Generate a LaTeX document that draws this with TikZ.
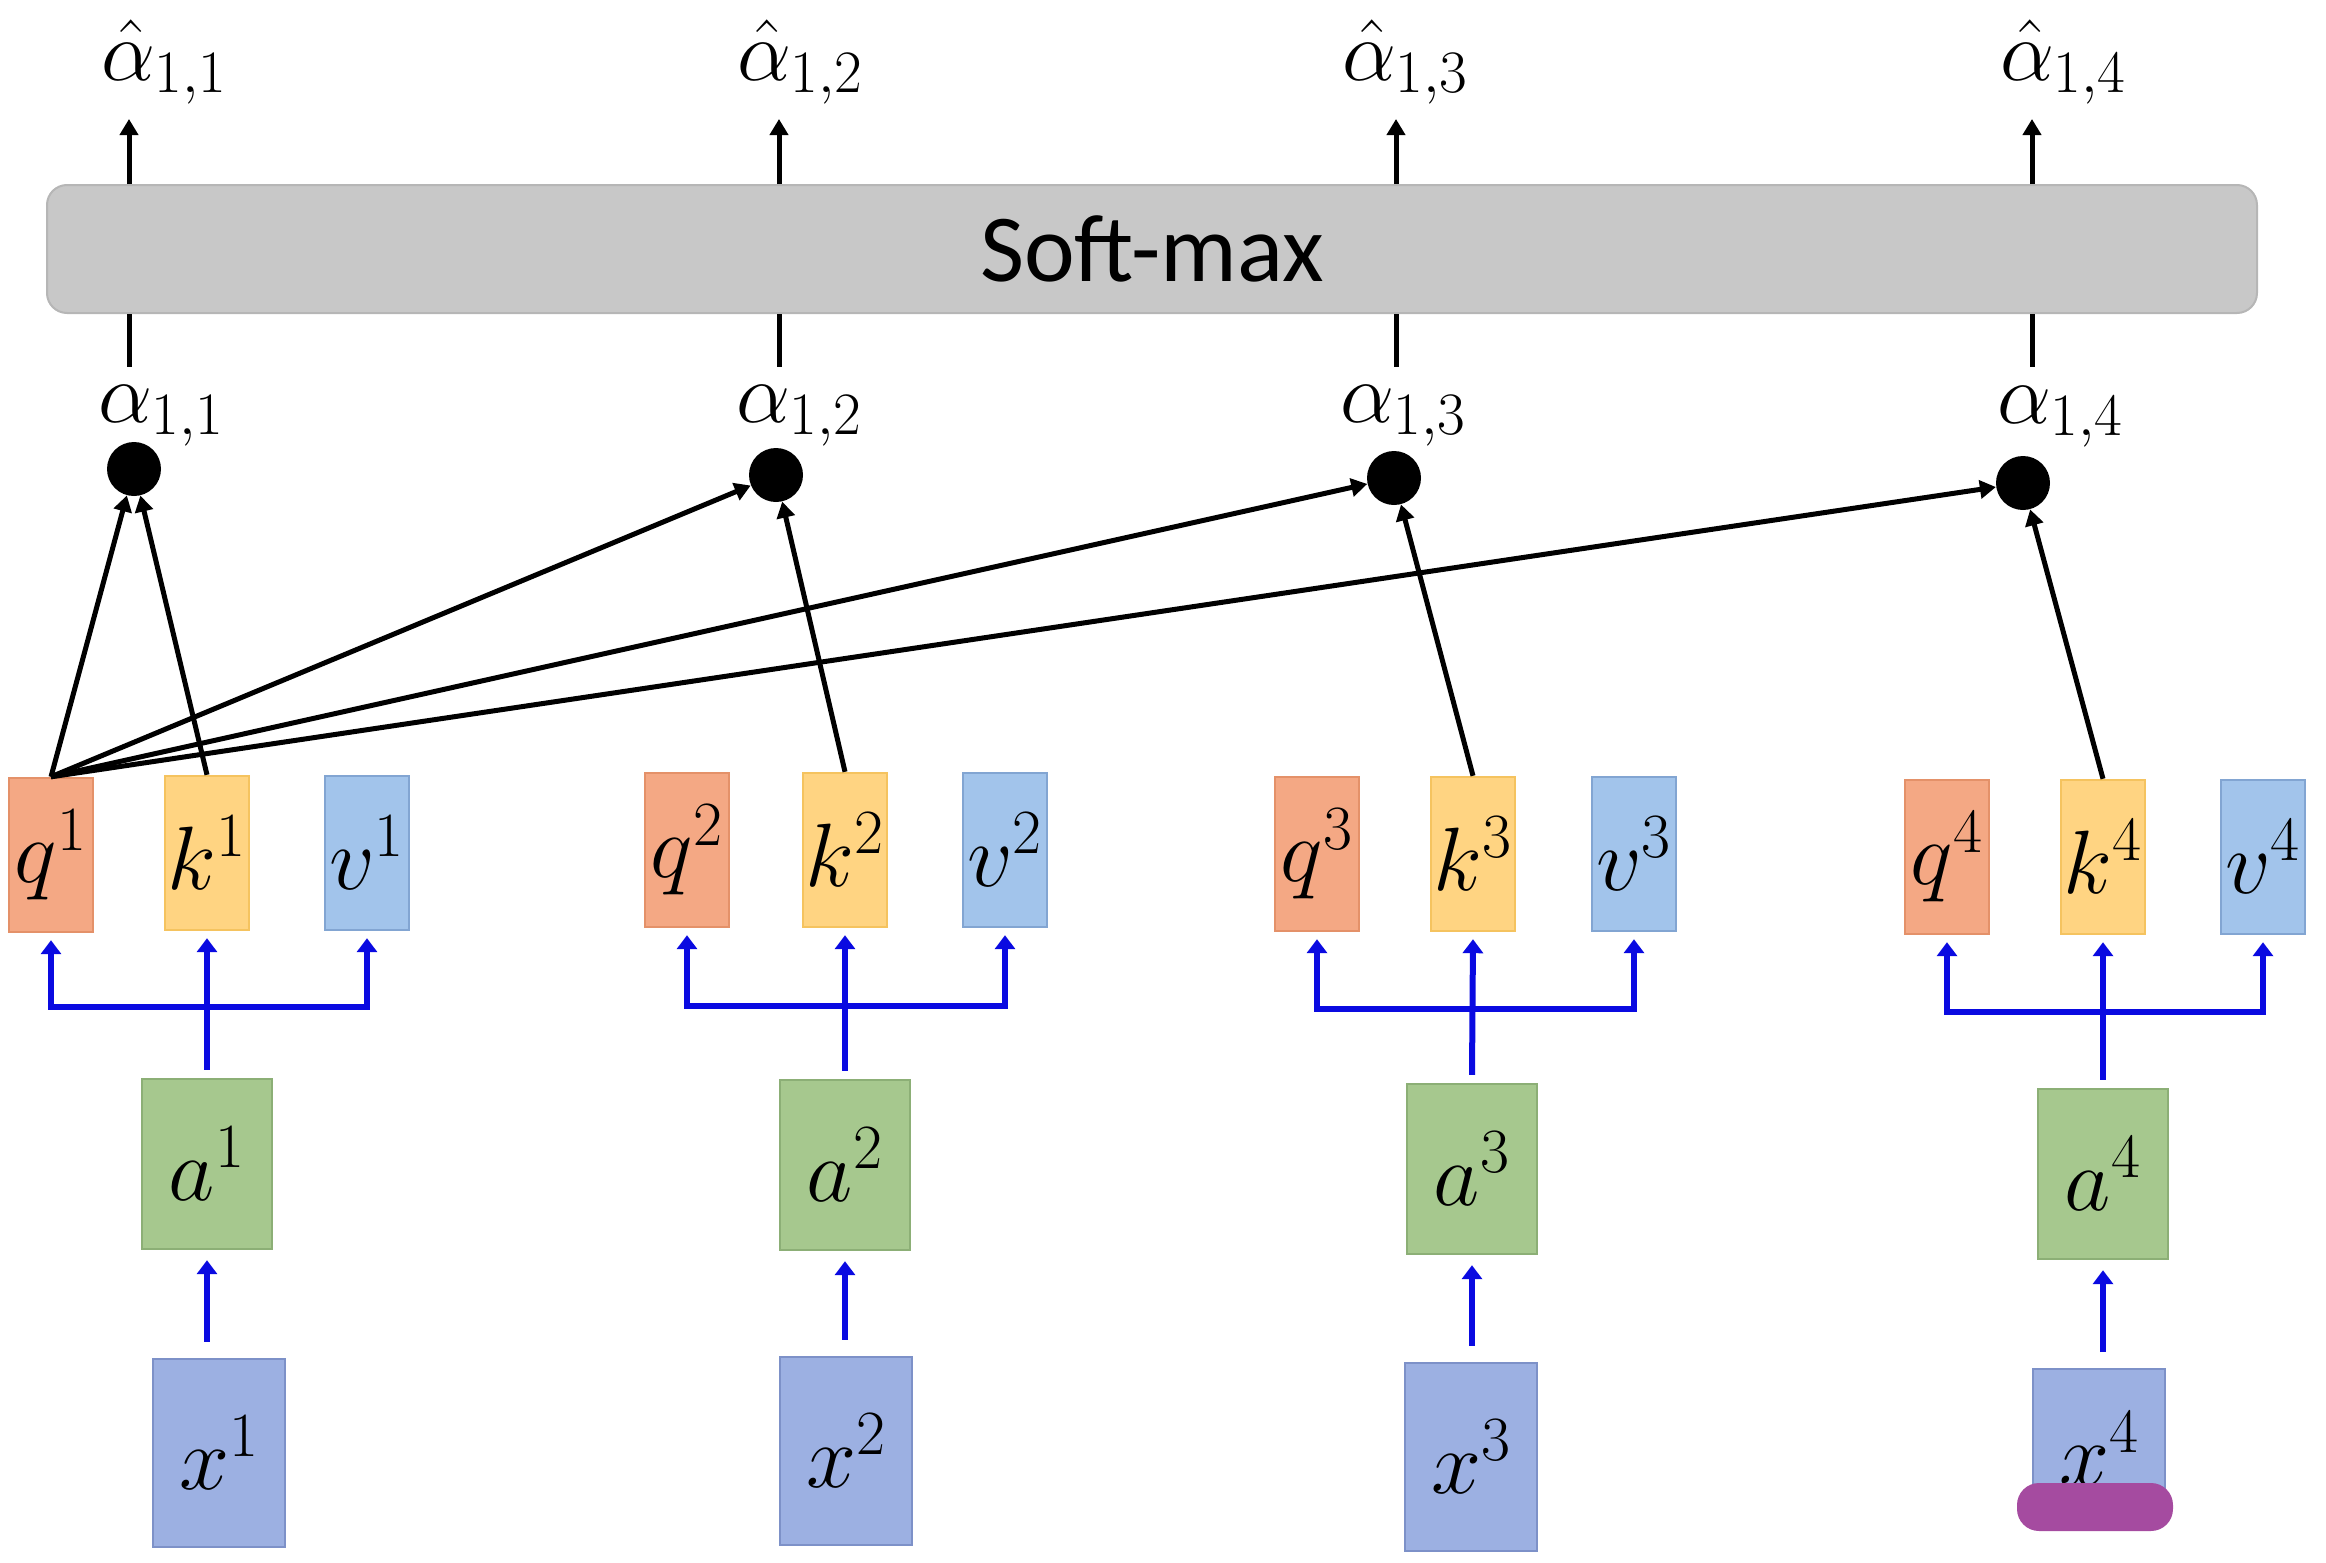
\RequirePackage{fix-cm}
\documentclass[tikz,border=0pt]{standalone}
\usepackage{fontspec}
\newfontfamily\calib{Carlito}
\usetikzlibrary{arrows.meta,calc}
\definecolor{qf}{RGB}{244,168,132}
\definecolor{qd}{RGB}{228,145,105}
\definecolor{kf}{RGB}{255,212,130}
\definecolor{kd}{RGB}{245,195,95}
\definecolor{vf}{RGB}{162,196,235}
\definecolor{vd}{RGB}{130,165,210}
\definecolor{af}{RGB}{166,200,142}
\definecolor{ad}{RGB}{140,175,118}
\definecolor{xf}{RGB}{156,176,226}
\definecolor{xd}{RGB}{125,145,200}
\definecolor{barf}{RGB}{200,200,200}
\definecolor{bard}{RGB}{182,182,182}
\definecolor{bl}{RGB}{10,10,225}
\definecolor{purp}{RGB}{165,75,160}
\begin{document}
\begin{tikzpicture}[x=0.5pt,y=-0.5pt,
  bx/.style={draw, line width=1.2pt, inner sep=0pt, font=\fontsize{45}{54}\selectfont},
  qbox/.style={bx, draw=qd, fill=qf, minimum width=42pt, minimum height=77pt},
  kbox/.style={bx, draw=kd, fill=kf, minimum width=42pt, minimum height=77pt},
  vbox/.style={bx, draw=vd, fill=vf, minimum width=42pt, minimum height=77pt},
  abox/.style={bx, draw=ad, fill=af, minimum width=65pt, minimum height=85pt},
  xbox/.style={bx, draw=xd, fill=xf, minimum width=66pt, minimum height=94pt},
  blk/.style={line width=2.5pt, -{Triangle[length=8pt,width=9pt]}},
  blkline/.style={line width=2.5pt},
  bluline/.style={line width=3pt, draw=bl, line join=miter},
  blu/.style={bluline, -{Triangle[length=7pt,width=10pt]}},
  blu2/.style={bluline, {Triangle[length=7pt,width=10pt]}-{Triangle[length=7pt,width=10pt]}},
  dot/.style={circle, fill=black, inner sep=0pt, minimum size=27pt},
  lab/.style={anchor=base west, inner sep=0pt, font=\fontsize{43}{50}\selectfont}]
\useasboundingbox (0,0) rectangle (2326,1563);

% Soft-max bar
\node[draw=bard, line width=1pt, fill=barf, rounded corners=10pt, minimum width=1105pt,
      minimum height=64pt, inner sep=0pt, font=\calib\fontsize{48}{58}\selectfont] (sm) at (1152,249) {Soft-max};

% output labels and arrows
\node[lab] (h1) at (101,80) {$\hat{\alpha}_{1,1}$};
\node[lab] (h2) at (737,80) {$\hat{\alpha}_{1,2}$};
\node[lab] (h3) at (1342,80) {$\hat{\alpha}_{1,3}$};
\node[lab] (h4) at (2000,80) {$\hat{\alpha}_{1,4}$};
\coordinate (t1) at (129,119);
\coordinate (t2) at (779,119);
\coordinate (t3) at (1396,119);
\coordinate (t4) at (2032,119);
\foreach \i in {1,2,3,4} \draw[blk] (sm.north -| t\i) -- (t\i);

% input lines to bar
\coordinate (b1) at (129,367);
\coordinate (b2) at (779,367);
\coordinate (b3) at (1396,367);
\coordinate (b4) at (2032,367);
\foreach \i in {1,2,3,4} \draw[blkline] (sm.south -| b\i) -- (b\i);

% alpha labels
\node[lab] (l1) at (98,422) {$\alpha_{1,1}$};
\node[lab] (l2) at (736,422) {$\alpha_{1,2}$};
\node[lab] (l3) at (1340,422) {$\alpha_{1,3}$};
\node[lab] (l4) at (1997,423) {$\alpha_{1,4}$};

% dots
\node[dot] (d1) at (134,469) {};
\node[dot] (d2) at (776,475) {};
\node[dot] (d3) at (1394,478) {};
\node[dot] (d4) at (2023,483) {};

% q k v boxes
\node[qbox] (q1) at (51,855) {$q^1$};
\node[kbox] (k1) at (207,853) {$k^1$};
\node[vbox] (v1) at (367,853) {$v^1$};
\node[qbox] (q2) at (687,850) {$q^2$};
\node[kbox] (k2) at (845,850) {$k^2$};
\node[vbox] (v2) at (1005,850) {$v^2$};
\node[qbox] (q3) at (1317,854) {$q^3$};
\node[kbox] (k3) at (1473,854) {$k^3$};
\node[vbox] (v3) at (1634,854) {$v^3$};
\node[qbox] (q4) at (1947,857) {$q^4$};
\node[kbox] (k4) at (2103,857) {$k^4$};
\node[vbox] (v4) at (2263,857) {$v^4$};

% a boxes
\node[abox] (a1) at (207,1164) {$a^1$};
\node[abox] (a2) at (845,1165) {$a^2$};
\node[abox] (a3) at (1472,1169) {$a^3$};
\node[abox] (a4) at (2103,1174) {$a^4$};

% x boxes
\node[xbox] (x1) at (219,1453) {$x^1$};
\node[xbox] (x2) at (846,1451) {$x^2$};
\node[xbox] (x3) at (1471,1457) {$x^3$};
\node[xbox, minimum height=0pt, anchor=north, text height=58pt, text depth=5.5pt] (x4) at (2099,1368) {$x^4$};

% black attention arrows
\draw[blk] (q1.north) -- (d1);
\draw[blk] (k1.north) -- (d1);
\draw[blk] (q1.north) -- (d2);
\draw[blk] (k2.north) -- (d2);
\draw[blk] (q1.north) -- (d3);
\draw[blk] (k3.north) -- (d3);
\draw[blk] (q1.north) -- (d4);
\draw[blk] (k4.north) -- (d4);

% blue connectors
\coordinate (j1) at (0,1007);
\coordinate (j2) at (0,1006);
\coordinate (j3) at (0,1009);
\coordinate (j4) at (0,1012);
\foreach \i in {1,2,3,4} {
  \draw[blu] ($(a\i.north)+(0,-8)$) -- ($(k\i.south)+(0,7)$);
  \draw[blu2] ($(q\i.south)+(0,7)$) -- (q\i.south |- j\i) -- (v\i.south |- j\i) -- ($(v\i.south)+(0,7)$);
  \draw[blu] ($(x\i.north -| a\i.south)+(0,-16)$) -- ($(a\i.south)+(0,10)$);
}

% purple marker stroke
\fill[purp, rounded corners=11pt] (2017,1483) rectangle (2173,1531);
\end{tikzpicture}
\end{document}
